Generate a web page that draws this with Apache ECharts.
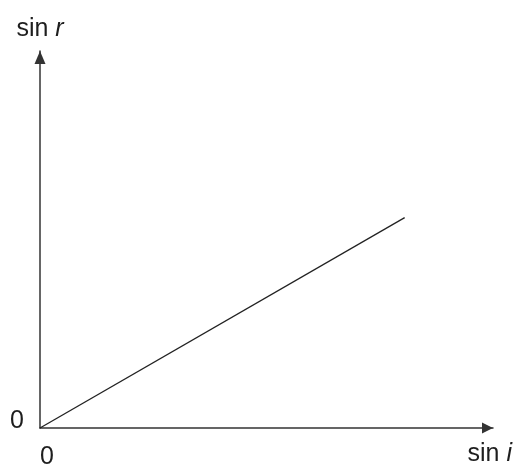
<!DOCTYPE html>
<html>
<head>
<meta charset="utf-8">
<script src="https://cdn.jsdelivr.net/npm/echarts@6/dist/echarts.min.js"></script>
<style>html,body{margin:0;padding:0;background:#fff;}#c{width:515px;height:470px;}</style>
</head>
<body>
<div id="c"></div>
<script>
// data
var sinI = [0, 8.05];
var sinR = [0, 5.58];
var xTickLabels = ['0'];
var yTickLabels = ['0'];
var xName = ['sin ', 'i'];
var yName = ['sin ', 'r'];

var pts = sinI.map(function (v, k) { return [v, sinR[k]]; });
var font = 'Liberation Sans';
var axisColor = '#333';
var textColor = '#1e1e1e';

var chart = echarts.init(document.getElementById('c'));
chart.setOption({
  animation: false,
  grid: { left: 40, right: 22, top: 51, bottom: 41, containLabel: false },
  xAxis: {
    type: 'value', min: 0, max: 10, interval: 10,
    splitLine: { show: false },
    axisTick: { show: false },
    axisLine: { onZero: false, lineStyle: { color: axisColor, width: 1.5 }, symbol: ['none', 'triangle'], symbolSize: [11, 11], symbolOffset: [0, -5.5] },
    axisLabel: {
      showMaxLabel: false, margin: 17, align: 'left', color: textColor,
      fontFamily: font, fontSize: 25,
      formatter: function (v) { return v === 0 ? xTickLabels[0] : ''; }
    },
    name: '{a|' + xName[0] + '}{b|' + xName[1] + '}',
    nameLocation: 'end', nameGap: 19,
    nameTextStyle: {
      align: 'right', verticalAlign: 'top', padding: [14, 0, 0, 0],
      rich: {
        a: { fontFamily: font, fontSize: 25, color: textColor },
        b: { fontFamily: font, fontSize: 25, fontStyle: 'italic', color: textColor }
      }
    }
  },
  yAxis: {
    type: 'value', min: 0, max: 10, interval: 10,
    splitLine: { show: false },
    axisTick: { show: false },
    axisLine: { onZero: false, lineStyle: { color: axisColor, width: 1.5 }, symbol: ['none', 'triangle'], symbolSize: [11, 13], symbolOffset: [0, -6.5] },
    axisLabel: {
      showMaxLabel: false, margin: 16, color: textColor, verticalAlign: 'bottom', lineHeight: 14,
      fontFamily: font, fontSize: 25,
      formatter: function (v) { return v === 0 ? yTickLabels[0] : ''; }
    },
    name: '{a|' + yName[0] + '}{b|' + yName[1] + '}',
    nameLocation: 'end', nameGap: 9,
    nameTextStyle: {
      align: 'center',
      rich: {
        a: { fontFamily: font, fontSize: 25, color: textColor },
        b: { fontFamily: font, fontSize: 25, fontStyle: 'italic', color: textColor }
      }
    }
  },
  series: [{
    type: 'line', data: pts, symbol: 'none',
    lineStyle: { color: '#222', width: 1.3 }
  }]
});
</script>
</body>
</html>
